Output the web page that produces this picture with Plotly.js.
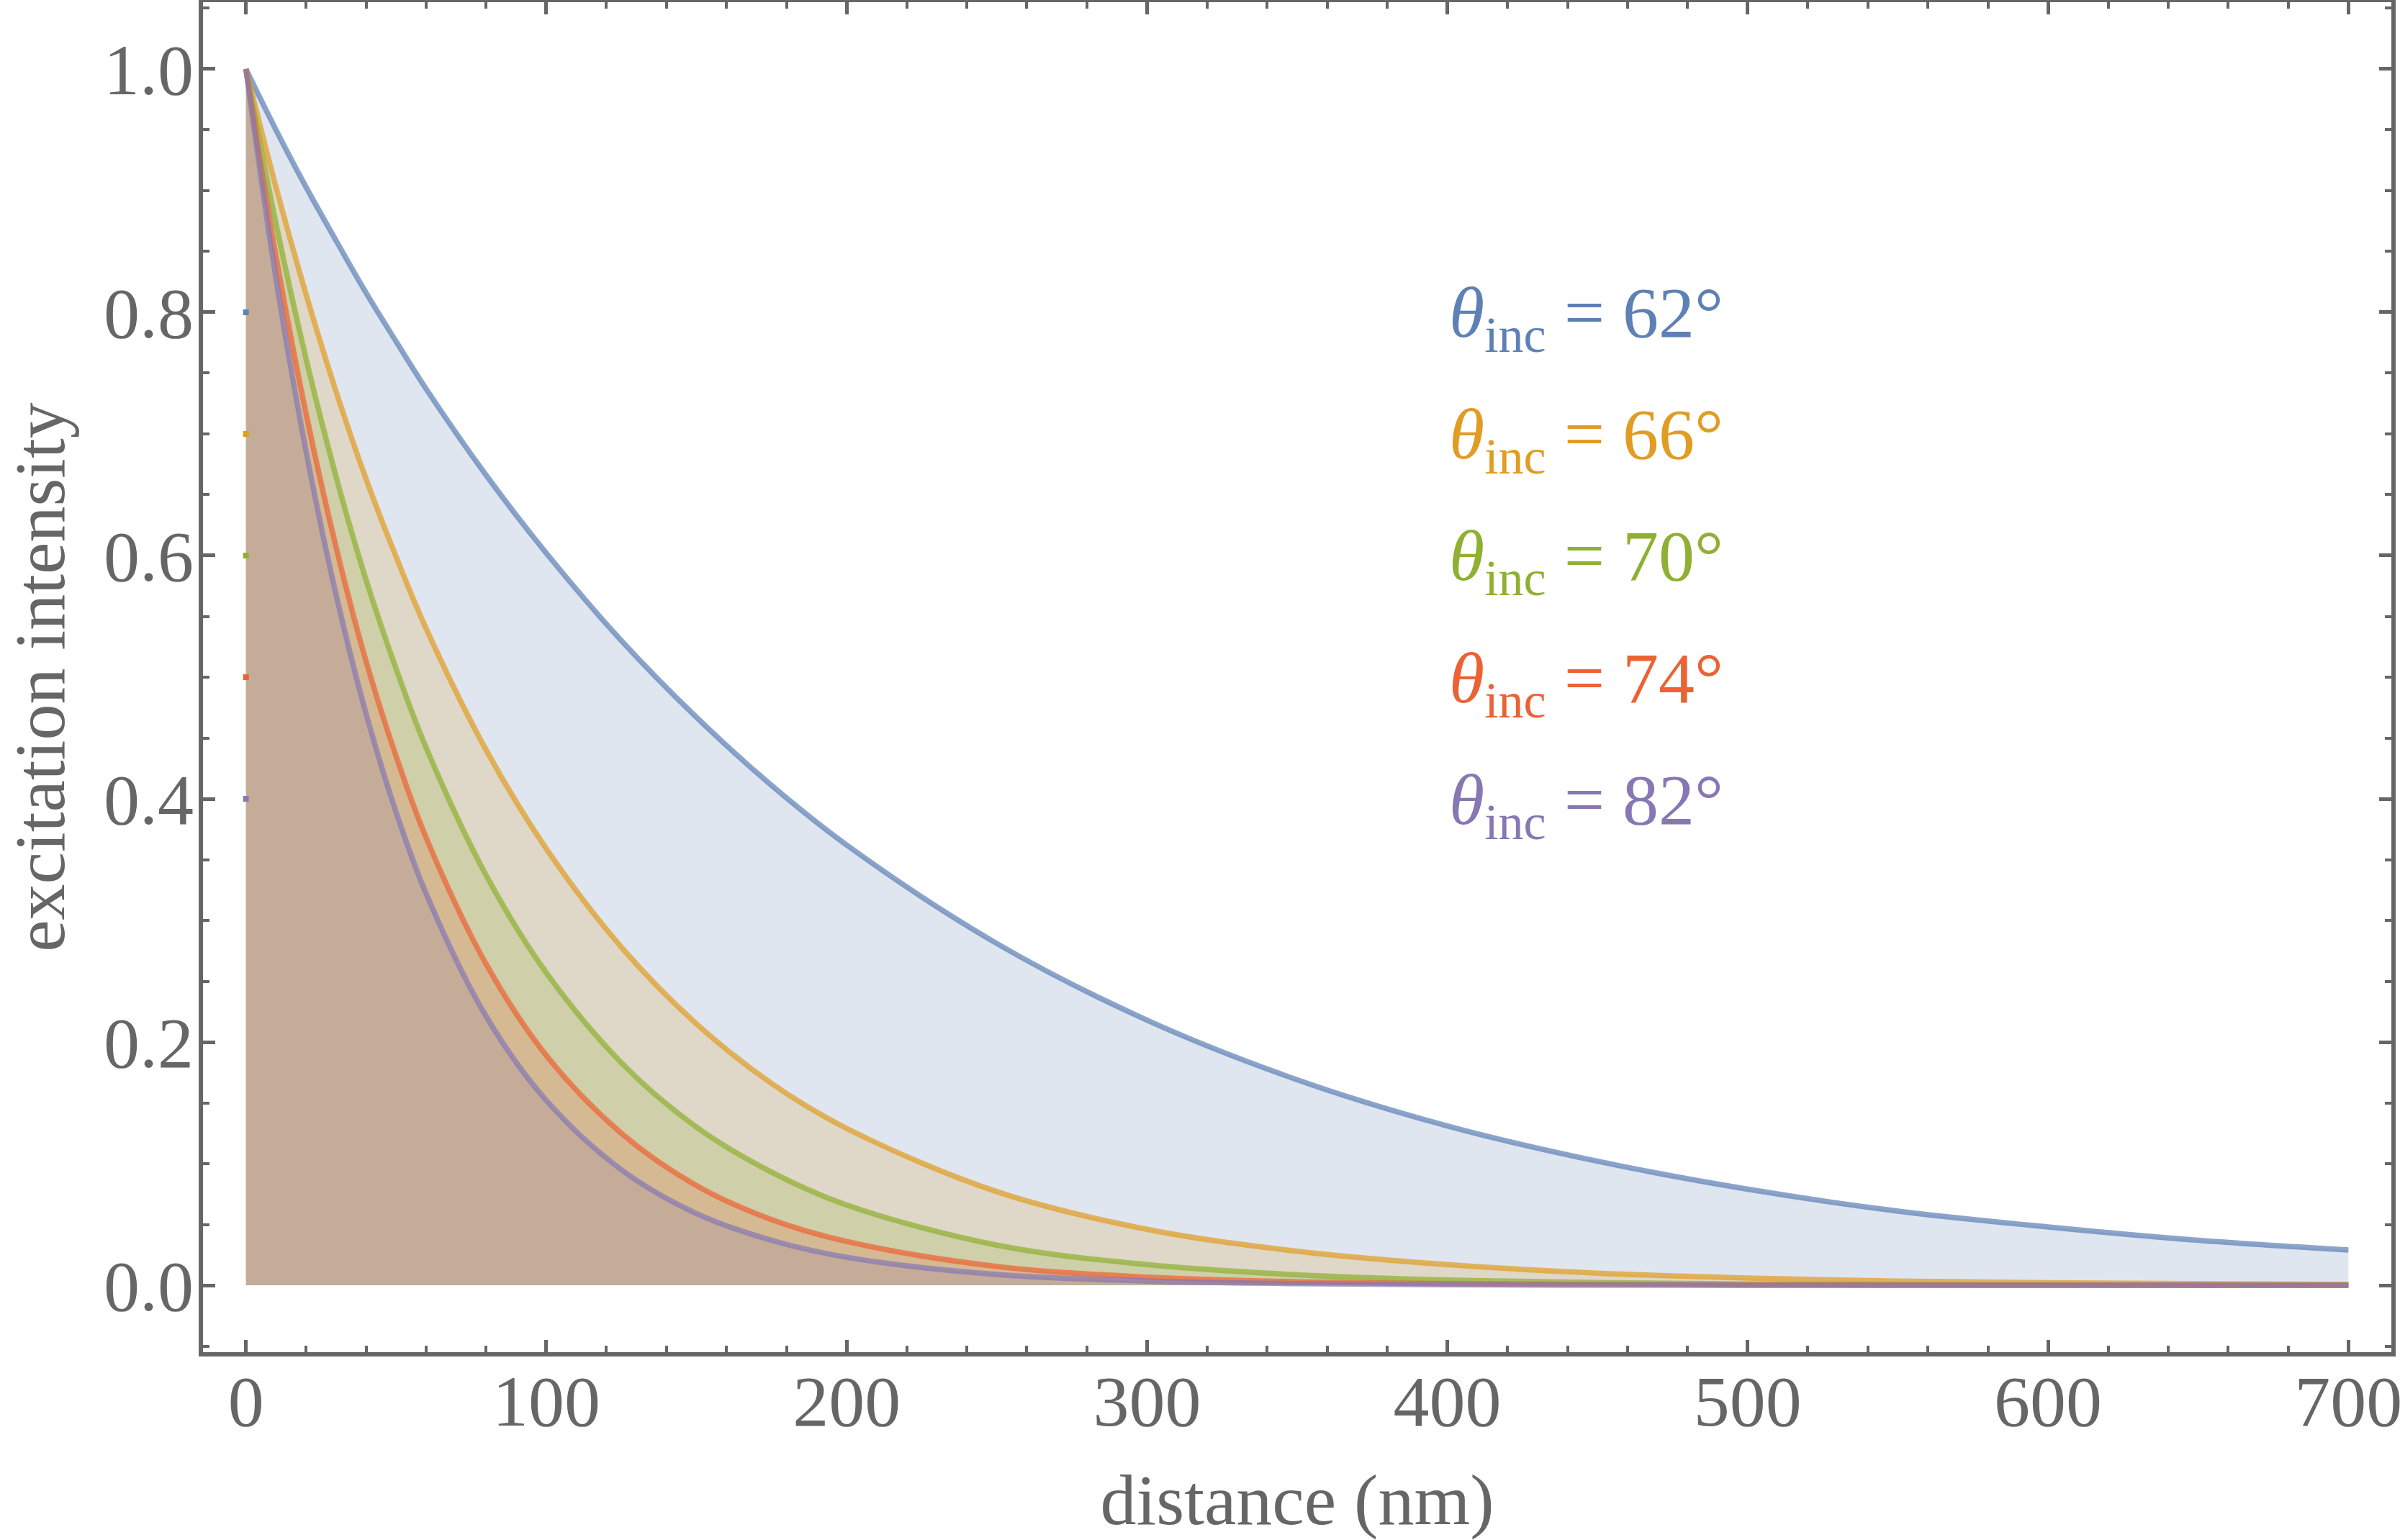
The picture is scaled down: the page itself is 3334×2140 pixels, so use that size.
<!DOCTYPE html>
<html>
<head>
<meta charset="utf-8">
<script src="https://cdn.plot.ly/plotly-3.0.1.min.js"></script>
<style>html,body{margin:0;padding:0;background:#fff;}#chart{width:3334px;height:2140px;}</style>
</head>
<body>
<div id="chart"></div>
<script>
// distance samples (nm)
const distance = [0, 10, 20, 30, 40, 50, 60, 80, 100, 125, 150, 175, 200, 250, 300, 350, 400, 450, 500, 550, 600, 650, 700];

// excitation intensity, one array per incidence angle
const int62 = [1.000, 0.950, 0.903, 0.859, 0.816, 0.776, 0.737, 0.666, 0.602, 0.530, 0.467, 0.411, 0.362, 0.281, 0.218, 0.169, 0.131, 0.102, 0.079, 0.061, 0.048, 0.037, 0.029];
const int66 = [1.000, 0.903, 0.815, 0.735, 0.663, 0.599, 0.540, 0.440, 0.359, 0.278, 0.215, 0.166, 0.129, 0.077, 0.046, 0.028, 0.017, 0.010, 0.006, 0.0035, 0.0021, 0.0013, 0.0008];
const int70 = [1.000, 0.873, 0.762, 0.665, 0.580, 0.507, 0.442, 0.337, 0.257, 0.183, 0.130, 0.093, 0.066, 0.033, 0.017, 0.0086, 0.0043, 0.0022, 0.0011, 0.0006, 0.0003, 0.0001, 0.0001];
const int74 = [1.000, 0.846, 0.717, 0.607, 0.513, 0.435, 0.368, 0.264, 0.189, 0.125, 0.082, 0.054, 0.036, 0.0155, 0.0067, 0.0029, 0.0013, 0.0006, 0.0002, 0.0001, 0.0000, 0.0000, 0.0000];
const int82 = [1.000, 0.828, 0.686, 0.568, 0.470, 0.389, 0.322, 0.221, 0.152, 0.095, 0.059, 0.037, 0.023, 0.0089, 0.0035, 0.0014, 0.0005, 0.0002, 0.0001, 0.0000, 0.0000, 0.0000, 0.0000];

const angles = ['62', '66', '70', '74', '82'];
const seriesValues = [int62, int66, int70, int74, int82];
const colorsRGB = [[94,129,181],[225,156,36],[143,176,50],[235,98,53],[135,120,179]];

// label anchor positions (callouts)
const labelX = 400;
const labelAnchorX = [0, 0, 0, 0, 0];
const labelY = [0.8, 0.7, 0.6, 0.5, 0.4];

const xTicks = [0, 100, 200, 300, 400, 500, 600, 700];
const yTicks = [0.0, 0.2, 0.4, 0.6, 0.8, 1.0];
const yTickText = ['0.0', '0.2', '0.4', '0.6', '0.8', '1.0'];

const rgba = (c, a) => `rgba(${c[0]},${c[1]},${c[2]},${a})`;
const FONT = 'Liberation Serif';
const GRAY = '#666666';

const traces = seriesValues.map((vals, i) => ({
  x: distance,
  y: vals,
  type: 'scatter',
  mode: 'lines',
  line: {color: rgba(colorsRGB[i], 0.72), width: 7.5, shape: 'spline', smoothing: 1},
  fill: 'tozeroy',
  fillcolor: rgba(colorsRGB[i], 0.2),
  hoverinfo: 'skip',
  showlegend: false
}));

traces.push({
  x: labelAnchorX,
  y: labelY,
  type: 'scatter',
  mode: 'markers',
  marker: {symbol: 'square', size: 8, color: colorsRGB.map(c => rgba(c, 1)), line: {width: 0}},
  hoverinfo: 'skip',
  showlegend: false
});

const annotations = angles.map((a, i) => ({
  x: labelX,
  y: labelY[i],
  xref: 'x', yref: 'y',
  xanchor: 'left', yanchor: 'middle',
  yshift: -8,
  text: `<i>θ</i><sub>inc</sub> = ${a}°`,
  showarrow: false,
  font: {family: FONT, size: 100, color: rgba(colorsRGB[i], 1)}
}));

const axisCommon = {
  showgrid: false,
  zeroline: false,
  showline: true,
  linewidth: 6,
  linecolor: GRAY,
  mirror: 'allticks',
  ticks: 'inside',
  ticklen: 17,
  tickwidth: 5,
  tickcolor: GRAY,
  ticklabeloverflow: 'allow',
  tickfont: {family: FONT, size: 100, color: GRAY}
};

const layout = {
  width: 3334,
  height: 2140,
  margin: {l: 282, r: 12, t: 3, b: 261},
  paper_bgcolor: '#ffffff',
  plot_bgcolor: '#ffffff',
  showlegend: false,
  xaxis: Object.assign({}, axisCommon, {
    range: [-14.3, 714.3],
    tickvals: xTicks,
    ticktext: xTicks.map(String),
    ticklabelstandoff: -24,
    minor: {dtick: 20, tick0: 0, ticks: 'inside', ticklen: 9, tickwidth: 4, tickcolor: GRAY, showgrid: false},
    title: {text: 'distance (nm)', font: {family: FONT, size: 100, color: GRAY}, standoff: 84}
  }),
  yaxis: Object.assign({}, axisCommon, {
    range: [-0.055, 1.055],
    tickvals: yTicks,
    ticktext: yTickText,
    ticklabelstandoff: -13,
    minor: {dtick: 0.05, tick0: 0, ticks: 'inside', ticklen: 9, tickwidth: 4, tickcolor: GRAY, showgrid: false},
    title: {text: 'excitation intensity', font: {family: FONT, size: 100, color: GRAY}, standoff: 53}
  }),
  annotations: annotations
};

Plotly.newPlot('chart', traces, layout, {staticPlot: true, displayModeBar: false});
</script>
</body>
</html>
